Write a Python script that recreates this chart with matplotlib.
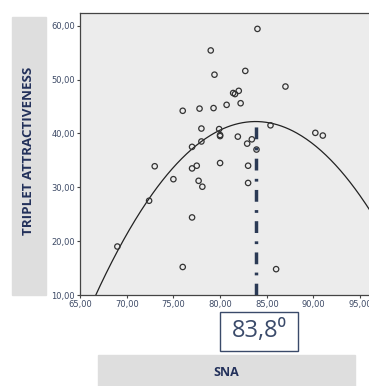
import numpy as np
import matplotlib
matplotlib.use("Agg")
import matplotlib.pyplot as plt
from matplotlib.patches import Rectangle

# scatter data (SNA, triplet attractiveness)
sna = [84.0, 79.0, 79.4, 82.7, 87.0, 81.4, 81.6, 82.0, 82.2, 80.7, 79.3, 77.8,
       76.0, 85.4, 78.0, 79.9, 80.0, 80.0, 81.9, 90.2, 91.0, 83.4, 82.9, 83.9,
       78.0, 77.0, 73.0, 77.5, 77.0, 80.0, 83.0, 75.0, 77.7, 78.1, 83.0, 72.4,
       77.0, 69.0, 76.0, 86.0]
attract = [59.4, 55.4, 50.9, 51.6, 48.7, 47.5, 47.3, 47.9, 45.6, 45.3, 44.7, 44.6,
           44.2, 41.5, 40.9, 40.8, 39.7, 39.5, 39.4, 40.1, 39.6, 38.9, 38.1, 37.0,
           38.5, 37.5, 33.9, 34.0, 33.5, 34.5, 34.0, 31.5, 31.2, 30.1, 30.8, 27.5,
           24.4, 19.0, 15.2, 14.8]

# quadratic fit: vertex and curvature
peak_x = 83.8
peak_y = 42.2
curv = 0.11

xticks = [65, 70, 75, 80, 85, 90, 95]
yticks = [10, 20, 30, 40, 50, 60]

navy = "#22305a"
tickcol = "#3d4a66"

W, H = 369, 386
fig = plt.figure(figsize=(W / 100, H / 100), dpi=100)

ax = fig.add_axes([80 / W, 91 / H, 289.5 / W, 282 / H])
ax.set_facecolor("#ececec")
ax.set_xlim(65, 96)
ax.set_ylim(10, 62.35)

xs = np.linspace(65, 96, 300)
ys = peak_y - curv * (xs - peak_x) ** 2
ax.plot(xs, ys, color="#222222", lw=0.9, zorder=2)

ax.scatter(sna, attract, s=15, facecolors="none", edgecolors="#333333",
           linewidths=0.9, zorder=3)

ax.plot([peak_x, peak_x], [10, peak_y + 0.2], color="#2b3a55", lw=2.5,
        dashes=(3.4, 2.4, 0.8, 2.4), zorder=4)

ax.set_xticks(xticks)
ax.set_yticks(yticks)
ax.set_xticklabels(["%d,00" % v for v in xticks])
ax.set_yticklabels(["%d,00" % v for v in yticks])
ax.tick_params(direction="out", length=2.5, width=0.8, labelsize=6,
               colors="#444444", labelcolor=tickcol, pad=1)
ax.spines["right"].set_visible(False)
for s in ["left", "bottom", "top"]:
    ax.spines[s].set_color("#444444")
    ax.spines[s].set_linewidth(0.9)

# y label box
fig.patches.append(Rectangle((12 / W, 1 - 295 / H), 34 / W, 278 / H,
                             transform=fig.transFigure, color="#dedede", zorder=0))
fig.text(29 / W, 1 - 151 / H, "TRIPLET ATTRACTIVENESS", rotation=90,
         ha="center", va="center", fontsize=9.6, fontweight="bold",
         color=navy, family="Open Sans")

# x label box
fig.patches.append(Rectangle((98 / W, 0), 257 / W, 31 / H,
                             transform=fig.transFigure, color="#dedede", zorder=0))
fig.text(226.5 / W, 1 - 372 / H, "SNA", ha="center", va="center",
         fontsize=9, fontweight="bold", color=navy, family="Open Sans")

# peak value box
fig.patches.append(Rectangle((220 / W, 1 - 351 / H), 78 / W, 39 / H,
                             transform=fig.transFigure, facecolor="white",
                             edgecolor="#3a4a6a", lw=1.0, zorder=1))
fig.text(259 / W, 1 - 331 / H, "83,8⁰", ha="center", va="center",
         fontsize=17, color="#3a4a6a", family=["Open Sans", "DejaVu Sans"])

fig.savefig("out.png", dpi=100)
